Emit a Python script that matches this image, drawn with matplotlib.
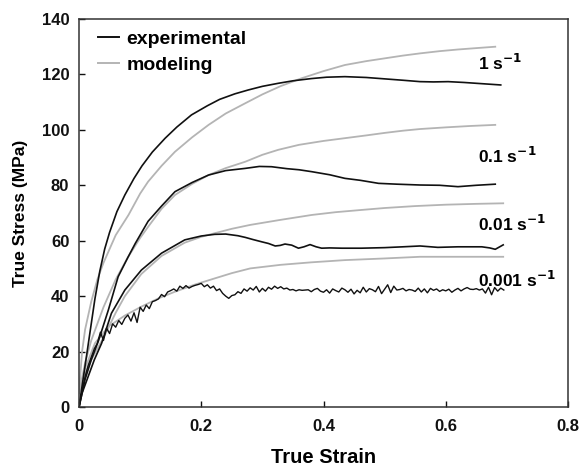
import numpy as np
import matplotlib
matplotlib.use('Agg')
import matplotlib.pyplot as plt

plt.rcParams['font.family'] = ['Liberation Sans', 'DejaVu Sans']
plt.rcParams['font.weight'] = 'bold'

# strain rate 1 s^-1
exp_1_x = [0, 0.01, 0.018, 0.026, 0.034, 0.042, 0.05, 0.062, 0.075, 0.09, 0.103, 0.12, 0.141, 0.16, 0.184, 0.21, 0.23,
           0.255, 0.277, 0.3, 0.326, 0.35, 0.38, 0.405, 0.435, 0.47, 0.5, 0.53, 0.558, 0.58, 0.604, 0.63, 0.65, 0.67, 0.69]
exp_1_y = [0, 15, 27, 39, 49, 57, 63, 70.5, 76.5, 82.5, 87, 92, 97, 101, 105.4, 108.7, 111,
           113, 114.4, 115.7, 116.8, 117.7, 118.5, 119, 119.2, 118.9, 118.4, 117.9, 117.4, 117.3, 117.4, 117.1, 116.8, 116.5, 116.2]
mod_1_x = [0, 0.005, 0.01, 0.02, 0.03, 0.04, 0.05, 0.06, 0.081, 0.1, 0.113, 0.135, 0.157, 0.185, 0.212, 0.24, 0.272,
           0.3, 0.33, 0.364, 0.4, 0.435, 0.47, 0.5, 0.53, 0.558, 0.59, 0.62, 0.65, 0.681]
mod_1_y = [5, 20, 28, 38, 46, 52, 57, 62, 69.3, 77, 81.3, 87, 92.1, 97.3, 101.8, 105.9, 109.6,
           112.8, 115.8, 118.6, 121.2, 123.4, 124.8, 125.8, 126.8, 127.6, 128.4, 129, 129.5, 130]

# strain rate 0.1 s^-1
exp_01_x = [0, 0.01, 0.02, 0.032, 0.048, 0.064, 0.08, 0.092, 0.113, 0.135, 0.157, 0.185, 0.212, 0.24, 0.272,
            0.295, 0.315, 0.34, 0.36, 0.381, 0.41, 0.435, 0.46, 0.49, 0.52, 0.558, 0.59, 0.62, 0.65, 0.681]
exp_01_y = [0, 10, 17, 24, 35, 47, 54, 59, 67, 72.5, 77.7, 81, 83.7, 85.3, 86.1,
            86.8, 86.7, 86, 85.6, 84.9, 83.8, 82.5, 81.8, 80.7, 80.4, 80.1, 80, 79.5, 80, 80.4]
mod_01_x = [0, 0.01, 0.02, 0.04, 0.06, 0.08, 0.1, 0.113, 0.135, 0.157, 0.185, 0.212, 0.24, 0.272,
            0.3, 0.326, 0.36, 0.4, 0.435, 0.47, 0.5, 0.53, 0.558, 0.6, 0.64, 0.681]
mod_01_y = [5, 16, 24, 36, 46, 54, 61, 65, 71.5, 76.5, 80.5, 83.7, 86.2, 88.5,
            91, 92.8, 94.6, 96, 97, 98, 98.9, 99.7, 100.3, 100.9, 101.4, 101.8]

# strain rate 0.01 s^-1
exp_001_x = [0, 0.005, 0.015, 0.025, 0.037, 0.053, 0.075, 0.102, 0.135, 0.173, 0.2, 0.222, 0.24, 0.26, 0.272,
             0.285, 0.299, 0.31, 0.321, 0.329, 0.337, 0.348, 0.359, 0.368, 0.378, 0.388, 0.397, 0.41, 0.43,
             0.462, 0.5, 0.53, 0.558, 0.587, 0.62, 0.659, 0.672, 0.681, 0.694]
exp_001_y = [0, 5, 11, 17, 23, 33.8, 42.2, 49.4, 55.5, 60.3, 61.7, 62.3, 62.4, 61.8, 61.2,
             60.4, 59.6, 59, 58.1, 58.3, 58.8, 58.4, 57.3, 57.8, 58.6, 57.8, 57.3, 57.4, 57.3,
             57.3, 57.5, 57.8, 58.1, 57.6, 57.8, 57.8, 57.4, 56.9, 58.5]
mod_001_x = [0, 0.01, 0.02, 0.04, 0.06, 0.075, 0.102, 0.135, 0.173, 0.2, 0.222, 0.25, 0.28, 0.329, 0.381,
             0.42, 0.462, 0.5, 0.55, 0.6, 0.65, 0.694]
mod_001_y = [5, 12, 17, 25, 34, 40, 48, 54.5, 59.3, 61.4, 62.7, 64.3, 65.7, 67.5, 69.3,
             70.3, 71.1, 71.8, 72.5, 73, 73.3, 73.5]

# strain rate 0.001 s^-1 (measured every 0.005 strain)
exp_0001_y = [0, 6, 11, 15, 18, 21, 23, 27, 24, 28.5, 26.5, 30, 28.8, 31.2, 29.8, 32, 33.2, 31, 34, 30.5,
              36, 34.5, 36.8, 35.5, 38, 38.4, 39, 40.6, 39.8, 41.5, 42, 42.6, 41.8, 43.6, 42.8, 43.8, 42.9, 43.5, 43.9, 44.2,
              44.6, 43.4, 44.1, 42.9, 43.6, 42, 42.6, 41, 40, 39.2, 40.2, 40.5, 41.6, 41, 42.6, 41.8, 43, 42.2, 43.5, 41.5,
              42.8, 41.8, 43.2, 42.5, 43.6, 42.8, 43.4, 42.6, 42.9, 42.2, 42.4, 41.9, 42.3, 42.1, 42.2, 42.3, 41.6, 42.4, 42.8, 41.8,
              41.4, 42.3, 41.1, 42.6, 42, 41.5, 42.9, 42.3, 41.4, 42.5, 40.8, 42.1, 41.2, 43.2, 41.5, 42.7, 42.3, 41.6, 43.5, 40.9,
              42.5, 44.1, 41.3, 43.6, 42.2, 42.4, 42.8, 41.9, 42.4, 42.2, 41.7, 42.9, 41.5, 42.6, 41.2, 42.8, 42.1, 42.6, 41.7, 42.3,
              41.9, 42.5, 41.4, 42.2, 42.8, 41.9, 42.6, 43.1, 42.5, 42.4, 42.7, 42.2, 42.6, 41.1, 43.2, 40.5, 43.1, 41.8, 42.9, 42.2]
exp_0001_x = np.linspace(0, 0.695, len(exp_0001_y))
mod_0001_x = [0, 0.01, 0.026, 0.048, 0.075, 0.102, 0.13, 0.157, 0.19, 0.222, 0.25, 0.28, 0.33, 0.38, 0.435,
              0.5, 0.558, 0.62, 0.694]
mod_0001_y = [5, 14, 23, 29, 33, 36.2, 39.2, 41.6, 44.2, 46.4, 48.3, 50, 51.3, 52.2, 53,
              53.6, 54.2, 54.2, 54.2]

rate_labels = ['1 s$^{\\mathbf{-1}}$', '0.1 s$^{\\mathbf{-1}}$', '0.01 s$^{\\mathbf{-1}}$', '0.001 s$^{\\mathbf{-1}}$']
label_y = [124, 90.5, 66, 46]

fig = plt.figure(figsize=(5.81, 4.67), dpi=100)
ax = fig.add_axes([0.136, 0.1285, 0.8416, 0.8308])

black = '#111111'
grey = '#b4b4b4'
lw_e, lw_m = 1.2, 1.3

ax.plot(mod_1_x, mod_1_y, color=grey, lw=lw_m)
ax.plot(mod_01_x, mod_01_y, color=grey, lw=lw_m)
ax.plot(mod_001_x, mod_001_y, color=grey, lw=lw_m)
ax.plot(mod_0001_x, mod_0001_y, color=grey, lw=lw_m)
ax.plot(exp_1_x, exp_1_y, color=black, lw=lw_e)
ax.plot(exp_01_x, exp_01_y, color=black, lw=lw_e)
ax.plot(exp_001_x, exp_001_y, color=black, lw=lw_e)
ax.plot(exp_0001_x, exp_0001_y, color=black, lw=1.0)

for txt, yy in zip(rate_labels, label_y):
    ax.text(0.653, yy, txt, fontsize=12.5, fontweight='bold', va='center', ha='left')

# legend entries
ax.plot([], [], color=black, lw=1.4, label='experimental')
ax.plot([], [], color=grey, lw=1.4, label='modeling')
handles, labels = ax.get_legend_handles_labels()
ax.legend(handles[-2:], labels[-2:], loc='upper left', bbox_to_anchor=(0.0225, 0.991), frameon=False,
          fontsize=14, handlelength=1.08, handletextpad=0.4, labelspacing=0.45, borderaxespad=0)

ax.set_xlim(0, 0.8)
ax.set_ylim(0, 140)
ax.set_xticks([0, 0.2, 0.4, 0.6, 0.8])
ax.set_xticklabels(['0', '0.2', '0.4', '0.6', '0.8'])
ax.set_yticks(range(0, 141, 20))
ax.tick_params(direction='in', length=4, width=1, labelsize=12, colors='#111111')
ax.tick_params(axis='x', pad=9)
ax.tick_params(axis='y', pad=7)
for sp in ax.spines.values():
    sp.set_linewidth(1.1)
    sp.set_color('#333333')

ax.set_xlabel('True Strain', fontsize=14.5, fontweight='bold', labelpad=10)
ax.set_ylabel('True Stress (MPa)', fontsize=12.5, fontweight='bold', labelpad=10)

fig.savefig('out.png', dpi=100)
